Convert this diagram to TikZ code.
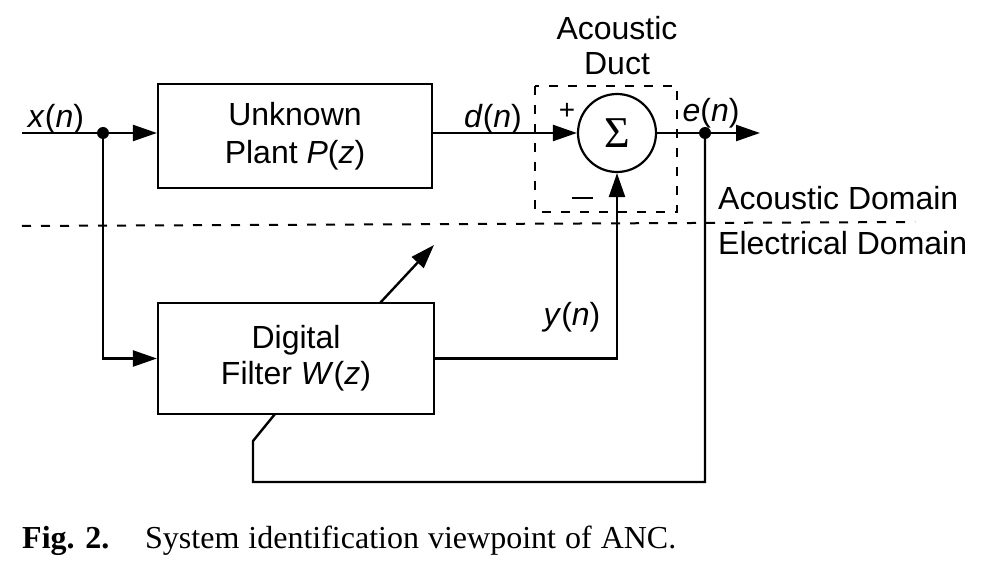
\documentclass[tikz,border=0pt]{standalone}
\usepackage{fontspec}
\setmainfont{Liberation Sans}
\newfontfamily\seriffont{Liberation Serif}
\usetikzlibrary{arrows.meta}
\begin{document}
\begin{tikzpicture}[x=1pt,y=-1pt,
  every node/.style={font=\fontsize{32}{38}\selectfont, inner sep=0pt},
  box/.style={draw, line width=2.2pt, align=center},
  wire/.style={line width=2.4pt},
  sig/.style={wire, -{Triangle[length=24pt,width=16pt]}},
  dashln/.style={line width=2pt, dash pattern=on 9pt off 10pt},
  junc/.style={circle, fill, minimum size=12pt}
]
\useasboundingbox (0,0) rectangle (993,561);
% boxes
\node[box, minimum width=274pt, minimum height=104pt] (plant) at (295,136) {Unknown\\Plant \textit{P}(\textit{z})};
\node[box, minimum width=276pt, minimum height=111pt] (filter) at (296,358.5) {\raisebox{8pt}{\begin{tabular}{@{}c@{}}Digital\\[-2pt]Filter \textit{W}(\textit{z})\end{tabular}}};
\node[draw, circle, line width=2.2pt, minimum size=78pt] (sum) at (617,133) {\seriffont\fontsize{44}{44}\selectfont Σ};
% dashed duct box and domain line
\draw[dashln] (535,86) rectangle (677,212);
\coordinate (dl) at (22,226);
\coordinate (dr) at (915,222);
\draw[dashln] (dl) -- (dr);
% junctions
\node[junc] (j1) at (103,133) {};
\node[junc] (j2) at (705,133) {};
\coordinate (xin) at (22,133);
\coordinate (eout) at (760,133);
% signal lines
\draw[wire] (xin) -- (j1);
\draw[sig] (j1) -- (plant.west |- j1);
\draw[sig] (j1) |- (filter.west);
\draw[sig] (plant.east |- sum) -- (sum.west);
\draw[wire] (sum.east) -- (j2);
\draw[sig] (j2) -- (eout);
\draw[sig] (filter.east) -| (sum.south);
% feedback
\coordinate (fb1) at (705,482);
\coordinate (fb2) at (253,482);
\coordinate (fb3) at (253,441);
\coordinate (fb4) at (275,414);
\draw[wire] (j2) -- (fb1) -- (fb2) -- (fb3) -- (fb4);
% adaptation arrow
\coordinate (ad1) at (380,303);
\coordinate (ad2) at (434,245);
\draw[sig] (ad1) -- (ad2);
% labels
\node[anchor=base] (lx) at (56,128) {\textit{x}(\textit{n})};
\node[anchor=base] (ld) at (493,128) {\textit{d}(\textit{n})};
\node[anchor=base] (le) at (711,122) {\textit{e}(\textit{n})};
\node[anchor=base] (ly) at (572,325) {\textit{y}(\textit{n})};
\node[font=\fontsize{28}{28}\selectfont] (lp) at (567,111) {+};
\node (lm) at (582,198) {\rule{21pt}{2.4pt}};
\node[anchor=base] (lac) at (617,40) {Acoustic};
\node[anchor=base] (ldu) at (617,75) {Duct};
\node[anchor=base west] (lad) at (718,210) {Acoustic Domain};
\node[anchor=base west] (led) at (718,255) {Electrical Domain};
% caption
\node[anchor=base west, font=\seriffont\bfseries\fontsize{32}{32}\selectfont] (cap1) at (22,548) {Fig. 2.};
\node[anchor=base west, font=\seriffont\fontsize{32}{32}\selectfont] (cap2) at (145,548) {\spaceskip=9pt System identification viewpoint of ANC.};
\end{tikzpicture}
\end{document}
